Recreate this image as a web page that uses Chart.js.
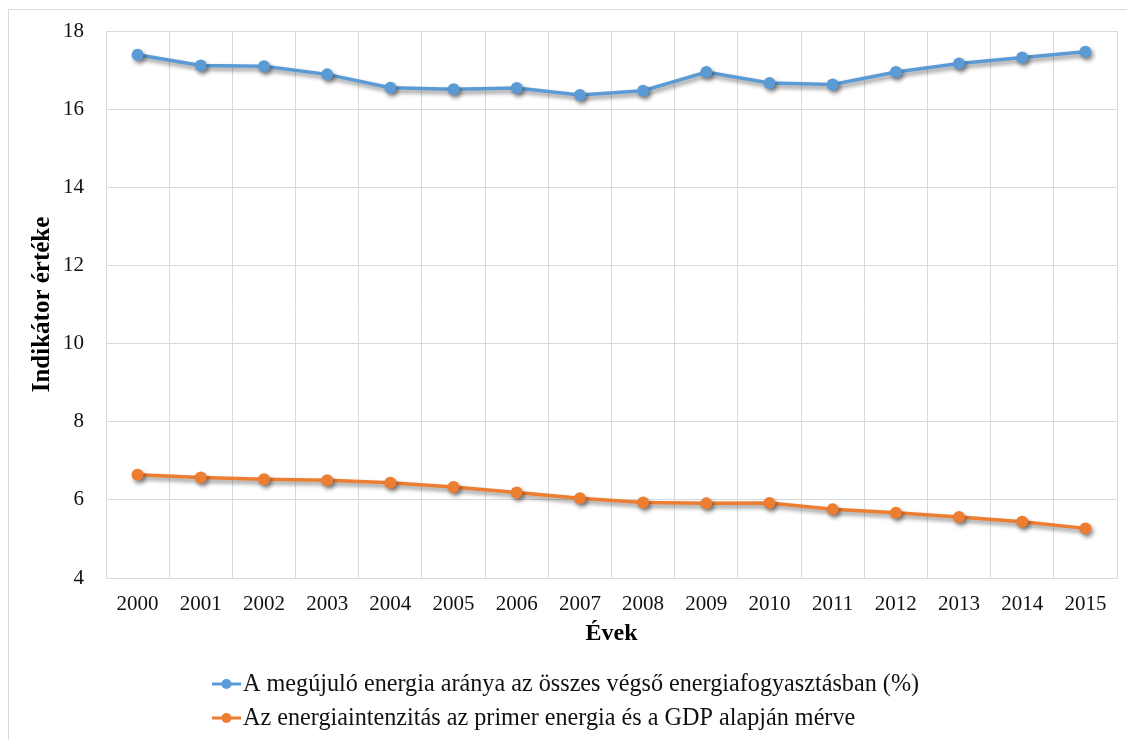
<!DOCTYPE html>
<html lang="hu">
<head>
<meta charset="utf-8">
<title>Indikátorok 2000-2015</title>
<script src="https://cdn.jsdelivr.net/npm/chart.js@4.4.1/dist/chart.umd.min.js"></script>
<style>
    html, body { margin: 0; padding: 0; background: #fff; }
    canvas { display: block; }
</style>
</head>
<body>
<canvas id="indikatorChart" width="1127" height="740"></canvas>
<script>
// Adatok
const evek = ['2000', '2001', '2002', '2003', '2004', '2005', '2006', '2007',
              '2008', '2009', '2010', '2011', '2012', '2013', '2014', '2015'];
const megujuloArany = [17.39, 17.12, 17.10, 16.89, 16.55, 16.51, 16.54, 16.36,
                       16.47, 16.95, 16.67, 16.63, 16.95, 17.17, 17.32, 17.47];
const energiaintenzitas = [6.64, 6.57, 6.53, 6.50, 6.44, 6.33, 6.19, 6.04,
                           5.93, 5.91, 5.92, 5.76, 5.67, 5.56, 5.44, 5.27];
const sorozatNevek = [
    'A megújuló energia aránya az összes végső energiafogyasztásban (%)',
    'Az energiaintenzitás az primer energia és a GDP alapján mérve'
];

document.addEventListener('DOMContentLoaded', () => {

    const betu = '"Liberation Serif", "Times New Roman", serif';
    const racsSzin = '#d9d9d9';

    // Diagram keret (bal és felső él)
    const keret = {
        id: 'keret',
        beforeDraw(chart) {
            const ctx = chart.ctx;
            ctx.save();
            ctx.strokeStyle = racsSzin;
            ctx.lineWidth = 1;
            ctx.beginPath();
            ctx.moveTo(8.5, chart.height);
            ctx.lineTo(8.5, 9.5);
            ctx.lineTo(chart.width, 9.5);
            ctx.stroke();
            ctx.restore();
        }
    };

    // Árnyék a vonalak és pontok alá
    const arnyek = {
        id: 'arnyek',
        beforeDatasetsDraw(chart) {
            const ctx = chart.ctx;
            ctx.save();
            ctx.shadowColor = 'rgba(0, 0, 0, 0.45)';
            ctx.shadowBlur = 4;
            ctx.shadowOffsetX = 2;
            ctx.shadowOffsetY = 3;
        },
        afterDatasetsDraw(chart) {
            chart.ctx.restore();
        }
    };

    // Jelmagyarázat egymás alatt, balra igazítva
    const jelmagyarazat = {
        id: 'jelmagyarazat',
        afterDraw(chart) {
            const ctx = chart.ctx;
            const x0 = 212;
            ctx.save();
            ctx.font = '24.2px ' + betu;
            ctx.textBaseline = 'middle';
            ctx.textAlign = 'left';
            chart.data.datasets.forEach((ds, i) => {
                const y = 684 + i * 34;
                ctx.strokeStyle = ds.borderColor;
                ctx.lineWidth = 3;
                ctx.beginPath();
                ctx.moveTo(x0, y);
                ctx.lineTo(x0 + 29, y);
                ctx.stroke();
                ctx.fillStyle = ds.borderColor;
                ctx.beginPath();
                ctx.arc(x0 + 14.5, y, 5, 0, Math.PI * 2);
                ctx.fill();
                ctx.fillStyle = '#111';
                ctx.fillText(ds.label, x0 + 31, y + 1);
            });
            ctx.restore();
        }
    };

    const ctxIndikator = document.getElementById('indikatorChart').getContext('2d');

    new Chart(ctxIndikator, {
        type: 'line',
        data: {
            labels: evek,
            datasets: [{
                label: sorozatNevek[0],
                data: megujuloArany,
                borderColor: '#5b9bd5',
                backgroundColor: '#5b9bd5',
                borderWidth: 3.5,
                pointRadius: 6,
                pointBorderWidth: 0,
                tension: 0
            }, {
                label: sorozatNevek[1],
                data: energiaintenzitas,
                borderColor: '#ed7d31',
                backgroundColor: '#ed7d31',
                borderWidth: 3.5,
                pointRadius: 6,
                pointBorderWidth: 0,
                tension: 0
            }]
        },
        options: {
            responsive: false,
            animation: false,
            devicePixelRatio: 1,
            layout: { padding: { top: 31, right: 10, left: 0, bottom: 0 } },
            plugins: {
                legend: { display: false },
                tooltip: { enabled: false }
            },
            scales: {
                x: {
                    offset: true,
                    grid: { offset: true, color: racsSzin, drawTicks: false },
                    border: { color: racsSzin },
                    ticks: {
                        color: '#111',
                        padding: 14,
                        font: { family: betu, size: 21 }
                    },
                    title: {
                        display: true,
                        text: 'Évek',
                        color: '#000',
                        font: { family: betu, size: 24, weight: 'bold' },
                        padding: { top: 0, bottom: 92 }
                    },
                    afterFit(scale) { scale.height = 162; }
                },
                y: {
                    min: 4,
                    max: 18,
                    ticks: {
                        stepSize: 2,
                        color: '#111',
                        padding: 22,
                        font: { family: betu, size: 21 }
                    },
                    grid: { color: racsSzin, drawTicks: false },
                    border: { color: racsSzin },
                    title: {
                        display: true,
                        text: 'Indikátor értéke',
                        color: '#000',
                        font: { family: betu, size: 25, weight: 'bold' },
                        padding: { top: 28, bottom: 0 }
                    },
                    afterFit(scale) {
                        scale.width = 106;
                        // a címkék távolsága ne tolja le a rajzterület tetejét
                        scale.paddingTop = 0;
                        scale.paddingBottom = 0;
                    }
                }
            }
        },
        plugins: [keret, arnyek, jelmagyarazat]
    });
});
</script>
</body>
</html>
